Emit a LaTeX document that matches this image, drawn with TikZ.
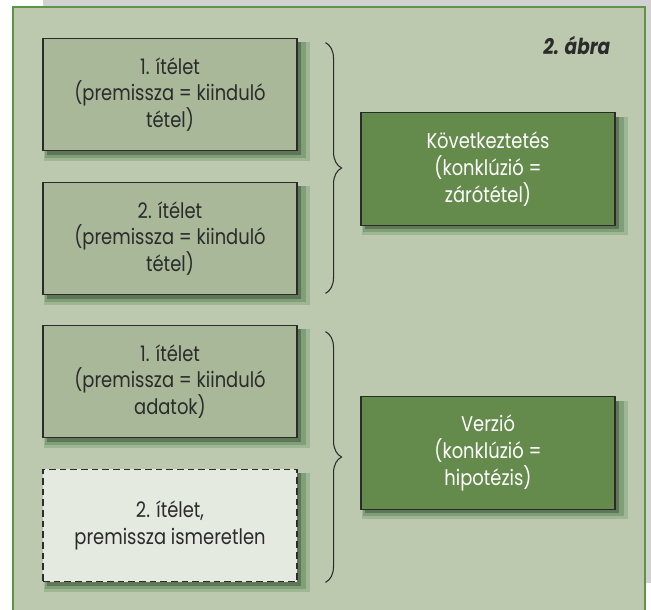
\documentclass[tikz,border=0pt]{standalone}
\usepackage{fontspec}
\setmainfont{Poppins}[FakeStretch=0.84]
\usepackage{tikz}
\usetikzlibrary{shapes,decorations,decorations.pathreplacing,calc,shadows}
\definecolor{panel}{HTML}{BCC9AF}
\definecolor{rim}{HTML}{5E9444}
\definecolor{itembg}{HTML}{A8B898}
\definecolor{darkbg}{HTML}{648A4C}
\definecolor{ghostbg}{HTML}{E4EADF}
\definecolor{ink}{HTML}{2B2B2B}

\begin{document}
\begin{tikzpicture}[x=0.75pt,y=0.75pt]
			\tikzset{soft/.style={general shadow={fill=black!70!green,opacity=0.15,shadow xshift=5pt,shadow yshift=-5pt,shadow scale=1.05},
				general shadow={fill=black!70!green,opacity=0.2,shadow xshift=4pt,shadow yshift=-4pt,shadow scale=1.025},
				general shadow={fill=black,opacity=0.25,shadow xshift=3pt,shadow yshift=-3pt}}}
			\tikzset{box/.style={draw=ink,line width=0.8pt,minimum width=190.5pt,minimum height=84.5pt,align=center,inner sep=2pt,
				font=\fontsize{16}{20}\selectfont,soft}}
			\tikzset{premise/.style={box,fill=itembg,text=ink}}
			\tikzset{unknown/.style={box,fill=ghostbg,text=ink,dash pattern=on 5pt off 3pt}}
			\tikzset{result/.style={box,fill=darkbg,text=white}}
			\tikzset{curly/.style={draw=ink,line width=0.8pt,decorate,decoration={brace,amplitude=12pt}}}
			\useasboundingbox (0,0) rectangle (651,-610);
			\fill[black!18] (43,0) rectangle (651,-583);
			\fill[panel] (13,-7) rectangle (645,-615);
			\draw[rim,line width=1.5pt] (13,-615) -- (13,-7) -- (645,-7) -- (645,-615);
			\node[anchor=base east,font=\fontsize{16.5}{18}\selectfont\bfseries\itshape,text=ink] (title) at (615,-55) {2. ábra};
			\node[premise] (p1) at (170,-94.5) {1. ítélet\\(premissza = kiinduló\\tétel)};
			\node[premise] (p2) at (170,-238.5) {2. ítélet\\(premissza = kiinduló\\tétel)};
			\node[premise] (q1) at (170,-381.5) {1. ítélet\\(premissza = kiinduló\\adatok)};
			\node[unknown] (q2) at (170,-525.5) {2. ítélet,\\premissza ismeretlen};
			\node[result] (k) at (488,-169) {Következtetés\\(konklúzió =\\zárótétel)};
			\node[result] (v) at (488,-453) {Verzió\\(konklúzió =\\hipotézis)};
			% braces
			\draw[curly] ($(p1.north east)+(28,-5)$) -- ($(p2.south east)+(28,2)$);
			\draw[curly] ($(q1.north east)+(28,-7)$) -- ($(q2.south east)+(28,0)$);
		\end{tikzpicture}
\end{document}
